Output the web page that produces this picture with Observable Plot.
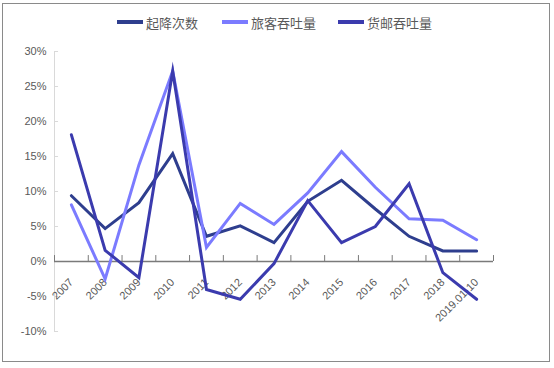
<!DOCTYPE html>
<html><head><meta charset="utf-8">
<script src="https://cdn.jsdelivr.net/npm/d3@7"></script>
<script src="https://cdn.jsdelivr.net/npm/@observablehq/plot@0.6"></script>
<style>
body{margin:0;background:#fff;}
#wrap{position:relative;width:554px;height:368px;overflow:hidden;background:#fff;}
#frame{position:absolute;left:2px;top:3px;width:548px;height:359px;border:1.5px solid #8a8a8a;box-sizing:border-box;}
#legend{position:absolute;top:12px;left:0;width:554px;height:20px;font-family:"Noto Sans CJK SC",sans-serif;font-size:13px;color:#595959;}
.li{position:absolute;top:0;display:flex;align-items:center;height:20px;}
.sw{display:inline-block;width:26px;height:4px;margin-right:3px;}
#chart{position:absolute;left:0;top:0;}
</style></head>
<body><div id="wrap"><div id="frame"></div><div id="legend"></div><div id="chart"></div></div>
<script>
const categories = ["2007","2008","2009","2010","2011","2012","2013","2014","2015","2016","2017","2018","2019.01-10"];
const seriesNames = ["起降次数","旅客吞吐量","货邮吞吐量"];
const takeoffs  = [9.4, 4.7, 8.4, 15.4, 3.6, 5.1, 2.7, 8.6, 11.6, 7.5, 3.6, 1.5, 1.5];
const passengers = [8.1, -2.5, 13.8, 27.2, 2.0, 8.3, 5.3, 9.8, 15.7, 10.6, 6.1, 5.9, 3.1];
const cargo     = [18.1, 1.6, -2.3, 27.2, -4.0, -5.4, -0.3, 8.7, 2.7, 5.0, 11.1, -1.6, -5.4];
const yTicks = [-10, -5, 0, 5, 10, 15, 20, 25, 30];
const colors = ["#2e3e8e", "#7b7bff", "#3b3bae"];

const all = [takeoffs, passengers, cargo];
const rows = [];
all.forEach((vals, s) => vals.forEach((v, i) => rows.push({series: seriesNames[s], i: i + 0.5, v})));
const labelRows = categories.map((c, i) => ({c, i: i + 0.5}));

const lg = document.getElementById("legend");
const lx = [117, 222, 338];
seriesNames.forEach((n, k) => {
  const d = document.createElement("div");
  d.className = "li"; d.style.left = lx[k] + "px";
  d.innerHTML = `<span class="sw" style="background:${colors[k]}"></span><span>${n}</span>`;
  lg.appendChild(d);
});

const tickFont = '"Liberation Sans Narrow","Arial Narrow","Liberation Sans",sans-serif';
const chart = Plot.plot({
  width: 554, height: 368,
  marginLeft: 54, marginRight: 61, marginTop: 51, marginBottom: 37,
  style: {background: "transparent", overflow: "visible"},
  x: {domain: [0, categories.length], axis: null},
  y: {domain: [-10, 30], axis: null},
  color: {domain: seriesNames, range: colors},
  marks: [
    Plot.ruleX([0], {y1: -10, y2: 30, stroke: "#d9d9d9", strokeWidth: 1}),
    Plot.ruleY(yTicks, {x1: 0, x2: 0.12, y: d => d, stroke: "#d9d9d9"}),
    Plot.text(yTicks, {x: 0, y: d => d, text: d => d + "%", textAnchor: "end", dx: -8,
      fill: "#595959", fontSize: 11, fontFamily: tickFont}),
    Plot.ruleY([0], {x1: 0, x2: categories.length, stroke: "#7a7a7a", strokeWidth: 1.6}),
    Plot.ruleX(d3.range(categories.length + 1), {y1: 0, y2: 0.85, stroke: "#7a7a7a", strokeWidth: 1}),
    Plot.text(labelRows, {x: "i", y: 0, text: "c", rotate: -45, textAnchor: "end", dx: 0, dy: 19,
      fill: "#595959", fontSize: 11, fontFamily: tickFont}),
    Plot.line(rows, {x: "i", y: "v", z: "series", stroke: "series", strokeWidth: 3,
      strokeLinejoin: "miter", strokeMiterlimit: 10})
  ]
});
document.getElementById("chart").appendChild(chart);
</script></body></html>
